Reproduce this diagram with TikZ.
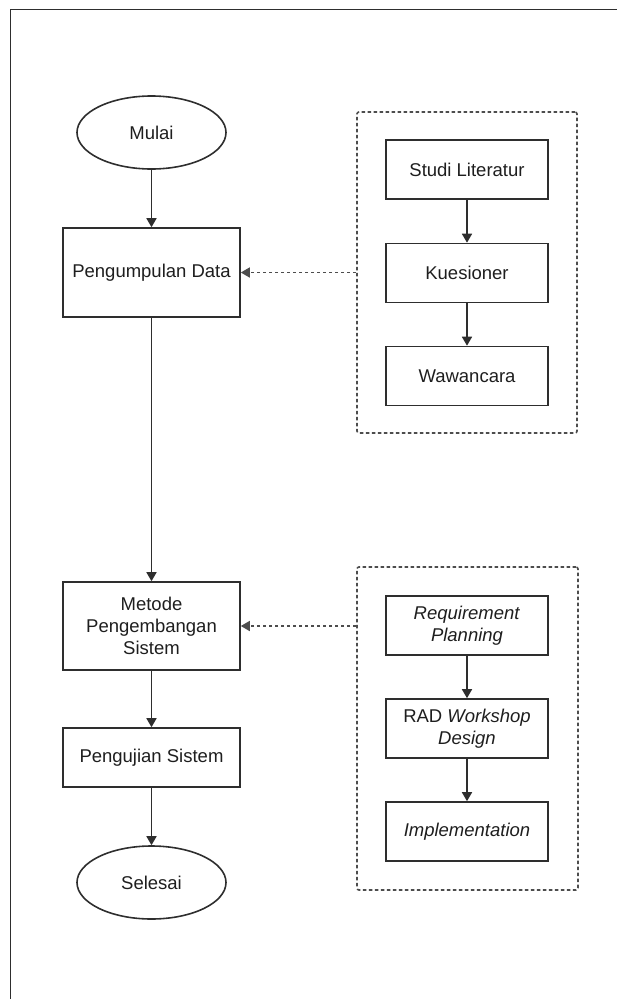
\documentclass[tikz,border=0pt]{standalone}
\usepackage{fontspec}
\setmainfont{Liberation Sans}
\usetikzlibrary{shapes.geometric,arrows.meta}
\definecolor{ln}{HTML}{2E2E2E}
\definecolor{tx}{HTML}{1E1E1E}
\tikzset{
  x=1pt, y=-1pt,
  base/.style={draw=ln, line width=1.6pt, inner sep=0pt, align=center, text=tx,
    font=\fontsize{18.5}{22}\selectfont},
  mainbox/.style={base, rectangle, minimum width=177pt},
  subbox/.style={base, rectangle, minimum width=162pt, minimum height=59pt},
  terminal/.style={base, ellipse, minimum width=149pt, minimum height=73pt},
  groupbox/.style={draw=ln!85, line width=1.6pt, dash pattern=on 3.5pt off 2.5pt, rounded corners=2pt, inner sep=0pt},
  flow/.style={draw=ln, line width=1.6pt, -{Triangle[length=9pt,width=10pt]}},
  dflow/.style={draw=ln!85, line width=1.6pt, dash pattern=on 3.5pt off 2.5pt, -{Triangle[length=9pt,width=10pt]}}
}
\begin{document}
\begin{tikzpicture}
\useasboundingbox (0,0) rectangle (617,999);
% outer frame
\coordinate (fbl) at (10.5,999);
\coordinate (ftl) at (10.5,9.5);
\coordinate (ftr) at (617,9.5);
\draw[draw=ln, line width=1.6pt] (fbl) -- (ftl) -- (ftr);

% main column
\node[terminal] (mulai) at (151.5,132.5) {Mulai};
\node[mainbox, minimum height=89pt] (pd) at (151.5,272.5) {Pengumpulan Data};
\node[mainbox, minimum height=88pt] (mp) at (151.5,626) {Metode\\Pengembangan\\Sistem};
\node[mainbox, minimum height=59pt] (ps) at (151.5,757.5) {Pengujian Sistem};
\node[terminal] (selesai) at (151.5,882.5) {Selesai};

% group 1
\node[groupbox, minimum width=220pt, minimum height=321pt] (g1) at (467,272.5) {};
\node[subbox] (sl) at (467,169.5) {Studi Literatur};
\node[subbox] (ku) at (467,273) {Kuesioner};
\node[subbox] (wa) at (467,376) {Wawancara};

% group 2
\node[groupbox, minimum width=221pt, minimum height=323pt] (g2) at (467.5,728.5) {};
\node[subbox] (rp) at (467,625.5) {\textit{Requirement}\\\textit{Planning}};
\node[subbox] (rad) at (467,728.5) {RAD \textit{Workshop}\\\textit{Design}};
\node[subbox] (im) at (467,831.5) {\textit{Implementation}};

% connectors
\draw[flow] (mulai) -- (pd);
\draw[flow] (pd) -- (mp);
\draw[flow] (mp) -- (ps);
\draw[flow] (ps) -- (selesai);
\draw[flow] (sl) -- (ku);
\draw[flow] (ku) -- (wa);
\draw[flow] (rp) -- (rad);
\draw[flow] (rad) -- (im);
\draw[dflow] (g1.west) -- (pd.east);
\draw[dflow] (mp.east -| g2.west) -- (mp.east);
\end{tikzpicture}
\end{document}
